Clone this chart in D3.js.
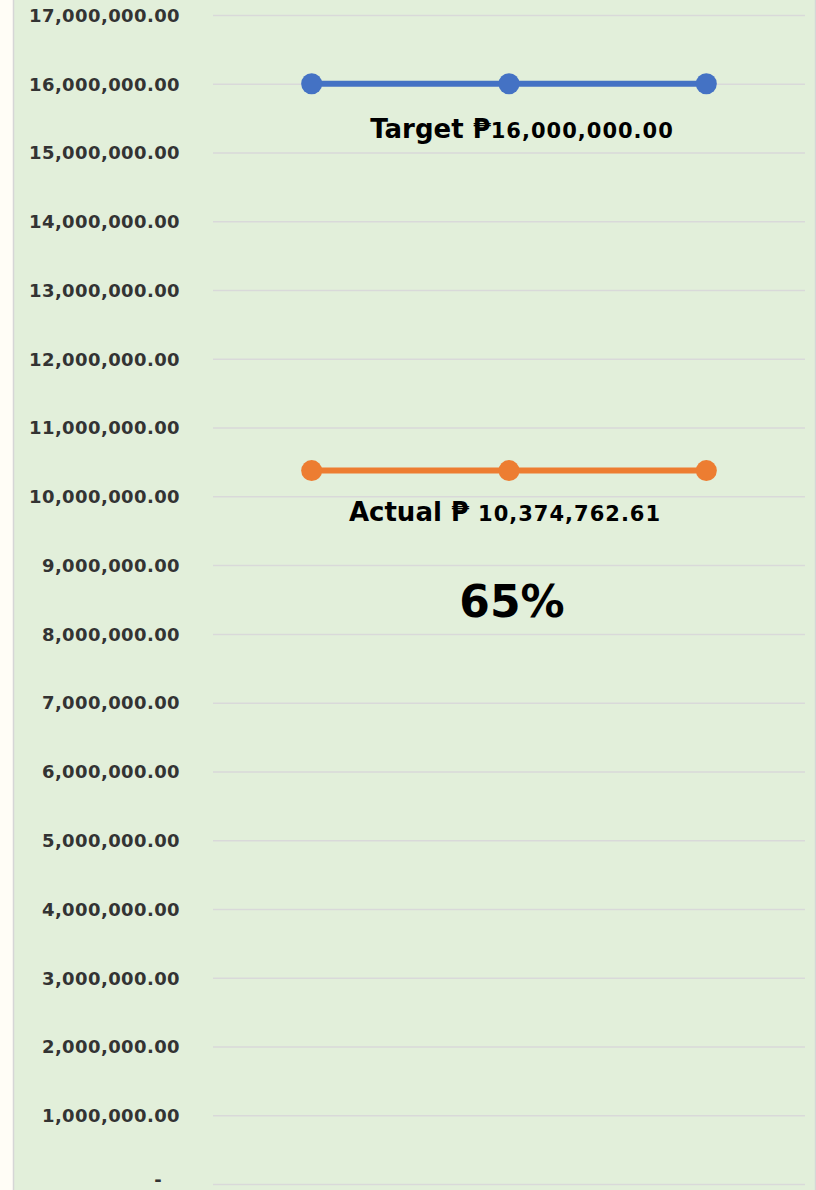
<!DOCTYPE html>
<html>
  <head>
    <meta charset="utf-8">
    <title>Target vs Actual</title>
    <script src="https://d3js.org/d3.v7.min.js"></script>
    <style>
      html, body { margin: 0; padding: 0; background: #fffdf6; }
      svg { display: block; }
      .tick text { font-family: "DejaVu Sans", sans-serif; font-weight: bold; fill: #333; letter-spacing: 0.4px; }
      .label { font-family: "DejaVu Sans", sans-serif; font-weight: bold; fill: #000; }
    </style>
  </head>
  <body>
    <svg id="chart" width="816" height="1190"></svg>
    <script>
      // chart data
      var categories = ["1", "2", "3"];
      var targetValues = [16000000, 16000000, 16000000];
      var actualValues = [10374762.61, 10374762.61, 10374762.61];
      var tickValues = [0, 1000000, 2000000, 3000000, 4000000, 5000000, 6000000, 7000000, 8000000,
        9000000, 10000000, 11000000, 12000000, 13000000, 14000000, 15000000, 16000000, 17000000];
      var percentLabel = "65%";

      var width = 816, height = 1190;
      var margin = { top: 15, right: 11, bottom: 6, left: 213 };

      var chart = d3.select("#chart");

      // panel
      chart.append("rect")
        .attr("x", 13.5).attr("y", -5)
        .attr("width", 802).attr("height", height + 10)
        .attr("fill", "#e2efda")
        .attr("stroke", "#d6d6d6")
        .attr("stroke-width", 1.5);

      var x = d3.scalePoint()
        .domain(categories)
        .range([margin.left, width - margin.right])
        .padding(0.5);
      var y = d3.scaleLinear()
        .domain([0, 17000000])
        .range([height - margin.bottom, margin.top]);

      var fmt = d3.format(",.2f");
      var yAxis = d3.axisLeft(y)
        .tickValues(tickValues)
        .tickSizeInner(margin.left + margin.right - width)
        .tickSizeOuter(0)
        .tickPadding(33)
        .tickFormat(function(d) { return d === 0 ? "-" : fmt(d); });

      var yAxisGroup = chart.append("g")
        .attr("transform", "translate(" + margin.left + ",0)")
        .call(yAxis);
      yAxisGroup.select(".domain").remove();
      yAxisGroup.selectAll(".tick line")
        .attr("stroke", "#d9d9d9")
        .attr("stroke-width", 1.5);
      yAxisGroup.selectAll(".tick text")
        .attr("font-size", 18)
        .attr("dy", "0.35em");
      // the zero dash sits a bit left and up, like the accounting format
      yAxisGroup.selectAll(".tick text")
        .filter(function(d) { return d === 0; })
        .attr("dx", -18)
        .attr("dy", "0.1em");

      // series
      var series = [
        { key: "Target", values: targetValues, color: "#4472c4" },
        { key: "Actual", values: actualValues, color: "#ed7d31" }
      ];
      var line = d3.line()
        .x(function(d, i) { return x(categories[i]); })
        .y(function(d) { return y(d); });

      var g = chart.append("g");
      series.forEach(function(s) {
        g.append("path")
          .attr("d", line(s.values))
          .attr("fill", "none")
          .attr("stroke", s.color)
          .attr("stroke-width", 6);
        g.selectAll(null)
          .data(s.values)
          .enter()
          .append("circle")
            .attr("cx", function(d, i) { return x(categories[i]); })
            .attr("cy", function(d) { return y(d); })
            .attr("r", 10.5)
            .attr("fill", s.color);
      });

      // labels
      var mid = x(categories[1]);
      var targetLabel = chart.append("text")
        .attr("class", "label")
        .attr("x", mid + 13)
        .attr("y", y(targetValues[1]) + 54)
        .attr("text-anchor", "middle");
      targetLabel.append("tspan").attr("font-size", 26).text("Target ₱");
      targetLabel.append("tspan").attr("font-size", 21).attr("letter-spacing", 1).text(fmt(targetValues[1]));

      var actualLabel = chart.append("text")
        .attr("class", "label")
        .attr("x", mid - 4)
        .attr("y", y(actualValues[1]) + 50)
        .attr("text-anchor", "middle");
      actualLabel.append("tspan").attr("font-size", 26).text("Actual ₱ ");
      actualLabel.append("tspan").attr("font-size", 21).attr("letter-spacing", 1).text(fmt(actualValues[1]));

      chart.append("text")
        .attr("class", "label")
        .attr("x", mid + 3)
        .attr("y", y(actualValues[1]) + 146)
        .attr("text-anchor", "middle")
        .attr("font-size", 44)
        .text(percentLabel);
    </script>
  </body>
</html>
